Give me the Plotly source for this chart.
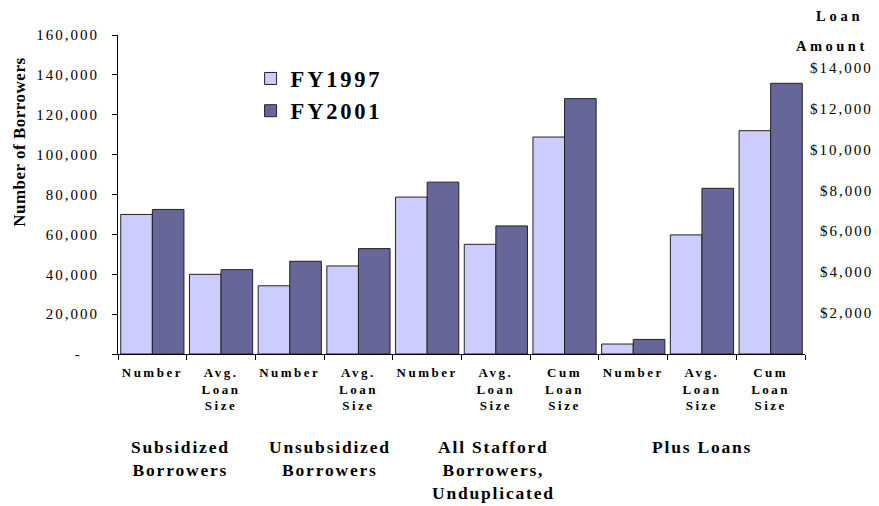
import plotly.graph_objects as go

# ---- data -------------------------------------------------------------
categories = ["Number", "Avg. Loan Size",
              "Number", "Avg. Loan Size",
              "Number", "Avg. Loan Size", "Cum Loan Size",
              "Number", "Avg. Loan Size", "Cum Loan Size"]
# "count" bars use the borrower axis, "dollars" bars use the loan-amount axis
measure = ["count", "dollars",
           "count", "dollars",
           "count", "dollars", "dollars",
           "count", "dollars", "dollars"]
group_index = [0, 0, 1, 1, 2, 2, 2, 3, 3, 3]
group_names = ["Subsidized<br>Borrowers",
               "Unsubsidized<br>Borrowers",
               "All Stafford<br>Borrowers,<br>Unduplicated",
               "Plus Loans"]

fy1997 = [70000, 3900, 34200, 4310, 78700, 5370, 10620, 5000, 5830, 10930]
fy2001 = [72500, 4130, 46500, 5160, 86200, 6270, 12500, 7300, 8110, 13250]

count_ticks = [0, 20000, 40000, 60000, 80000, 100000, 120000, 140000, 160000]
dollar_ticks = [2000, 4000, 6000, 8000, 10000, 12000, 14000]

# ---- styling helpers --------------------------------------------------
SERIF = "Liberation Serif"
LIGHT = "#CCCCFF"
DARK = "#666699"


def spaced(text, px):
    """Letter-spaced text, applied line by line."""
    return "<br>".join(
        f'<span style="letter-spacing:{px}px">{line}</span>'
        for line in text.split("<br>")
    )


xpos = list(range(len(categories)))
tick_text = [spaced("<br>".join(c.split(" ")), 2.5) for c in categories]

fig = go.Figure()

series = [("FY1997", fy1997, LIGHT, -0.46), ("FY2001", fy2001, DARK, 0.0)]
for name, values, color, off in series:
    for kind, axis in (("count", "y"), ("dollars", "y2")):
        idx = [i for i in xpos if measure[i] == kind]
        fig.add_trace(go.Bar(
            x=[xpos[i] for i in idx],
            y=[values[i] for i in idx],
            yaxis=axis,
            name=spaced(name, 2.8),
            legendgroup=name,
            showlegend=(kind == "count"),
            width=0.46,
            offset=off,
            marker=dict(color=color, line=dict(color="#222222", width=1)),
            hoverinfo="skip",
        ))

count_text = [spaced(f"{v:,}" if v else "-\u00a0\u00a0\u00a0", 2.0)
              for v in count_ticks]

fig.update_layout(
    width=879, height=506,
    margin=dict(l=118, r=74, t=35, b=152),
    paper_bgcolor="white", plot_bgcolor="white",
    barmode="overlay",
    font=dict(family=SERIF, color="black"),
    showlegend=True,
    legend=dict(
        x=0.193, y=0.93, xanchor="left", yanchor="top",
        font=dict(family=SERIF, size=22.5, color="black", weight="bold"),
        bgcolor="rgba(0,0,0,0)", tracegroupgap=0,
        itemclick=False, itemdoubleclick=False,
    ),
    xaxis=dict(
        range=[-0.5, len(categories) - 0.5],
        tickmode="array", tickvals=xpos, ticktext=tick_text,
        ticks="", showline=True, linecolor="black", linewidth=1,
        showgrid=False, zeroline=False,
        tickfont=dict(family=SERIF, size=13, color="black", weight="bold"),
        ticklabelstandoff=6,
        minor=dict(tickmode="array",
                   tickvals=[i - 0.5 for i in range(len(categories) + 1)],
                   ticks="outside", ticklen=5, tickcolor="black",
                   showgrid=False),
    ),
    yaxis=dict(
        range=[0, 160000],
        tickmode="array", tickvals=count_ticks, ticktext=count_text,
        ticks="outside", ticklen=5, tickcolor="black",
        showline=True, linecolor="black", linewidth=1,
        showgrid=False, zeroline=False,
        tickfont=dict(family=SERIF, size=15, color="black"),
        ticklabelstandoff=10,
    ),
    yaxis2=dict(
        overlaying="y", side="right",
        range=[0, 15615],
        showticklabels=False, ticks="", showline=False,
        showgrid=False, zeroline=False,
    ),
)

# axis titles
fig.add_annotation(text=spaced("Number of Borrowers", 0.5), textangle=-90,
                   xref="paper", yref="paper", x=-0.1427, y=0.665,
                   xanchor="center", yanchor="middle", showarrow=False,
                   font=dict(family=SERIF, size=17, color="black", weight="bold"))
fig.add_annotation(text=spaced("Loan", 3.8), xref="paper", yref="paper",
                   x=1.05, y=1.0596, xanchor="center", yanchor="middle",
                   showarrow=False,
                   font=dict(family=SERIF, size=14.5, color="black", weight="bold"))
fig.add_annotation(text=spaced("Amount", 3.5), xref="paper", yref="paper",
                   x=1.039, y=0.9655, xanchor="center", yanchor="middle",
                   showarrow=False,
                   font=dict(family=SERIF, size=14.5, color="black", weight="bold"))

# loan-amount labels on the right, placed on the dollar scale
for v in dollar_ticks:
    fig.add_annotation(text=spaced(f"${v:,}", 2.0), xref="paper", yref="y2",
                       x=1.102, y=v, xanchor="right", yanchor="middle",
                       showarrow=False,
                       font=dict(family=SERIF, size=15, color="black"))

# program group labels under the categories
group_shift = [-6, 6, -2, 0]
for g, gname in enumerate(group_names):
    members = [i for i in xpos if group_index[i] == g]
    center = sum(members) / len(members)
    fig.add_annotation(text=spaced(gname, 1.8), xref="x", yref="paper",
                       x=center, y=-0.255, xanchor="center", yanchor="top",
                       xshift=group_shift[g], showarrow=False,
                       font=dict(family=SERIF, size=17.5, color="black", weight="bold"))

fig.write_html("out.html")
